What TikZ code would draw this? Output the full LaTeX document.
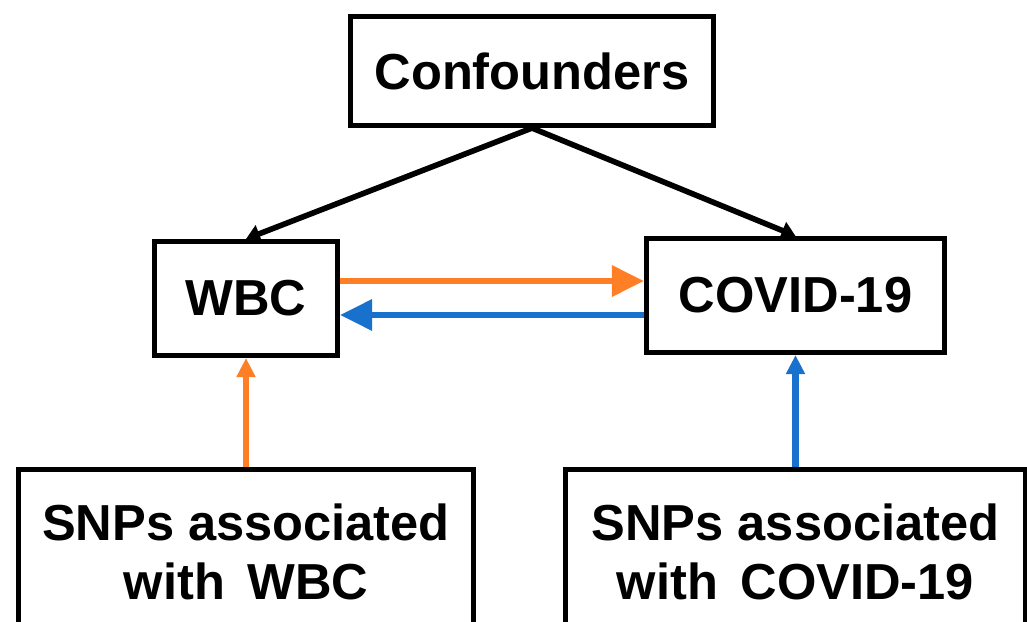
\documentclass[tikz,border=0pt]{standalone}
\usepackage{fontspec}
\setmainfont{Liberation Sans}
\usetikzlibrary{arrows,arrows.meta,positioning,calc}
\definecolor{laranja}{RGB}{255,127,39}
\definecolor{azul}{RGB}{24,113,204}

\begin{document}
\begin{tikzpicture} [> = stealth, auto, font=\bfseries\fontsize{28.8}{34}\selectfont]
            % Estilo para os nós
            \tikzstyle{box}=[rectangle, draw, line width=2.9pt, inner sep=0pt, align=center]
            \tikzstyle{blackarrow}=[-{Triangle[length=2.8mm,width=3.6mm]}, line width=3.2pt]
            \tikzstyle{bigarrow}=[-{Triangle[length=6.4mm,width=6mm]}, line width=3.6pt]
            \tikzstyle{smallarrow}=[-{Triangle[length=3.8mm,width=3.6mm]}, line width=3.6pt]

            \useasboundingbox (0,0) rectangle (20.54,-12.44);

            % Nós
            \node[box, minimum width=7.26cm, minimum height=2.18cm] (conf) at (10.64,-1.42) {Confounders};
            \node[box, minimum width=3.66cm, minimum height=2.28cm] (wbc) at (4.92,-5.97) {WBC};
            \node[box, minimum width=5.96cm, minimum height=2.28cm] (covid) at (15.91,-5.91) {COVID-19};
            \node[box, minimum width=9.1cm, minimum height=3.3cm] (snpw) at (4.92,-11.04) {SNPs associated\\with\, WBC};
            \node[box, minimum width=9.2cm, minimum height=3.3cm] (snpc) at (15.91,-11.04) {SNPs associated\\with\, COVID-19};

            % Arestas
            \draw[blackarrow] (conf.south) -- (wbc.north);
            \draw[blackarrow] (conf.south) -- (covid.north);
            \draw[bigarrow, laranja] ([yshift=3.5mm]wbc.east) -- ([yshift=3.5mm]wbc.east -| covid.west);
            \draw[bigarrow, azul] ([yshift=-3.3mm]wbc.east -| covid.west) -- ([yshift=-3.3mm]wbc.east);
            \draw[smallarrow, laranja] (snpw.north) -- (wbc.south);
            \draw[smallarrow, azul] (snpc.north) -- (covid.south);
        \end{tikzpicture}
\end{document}
